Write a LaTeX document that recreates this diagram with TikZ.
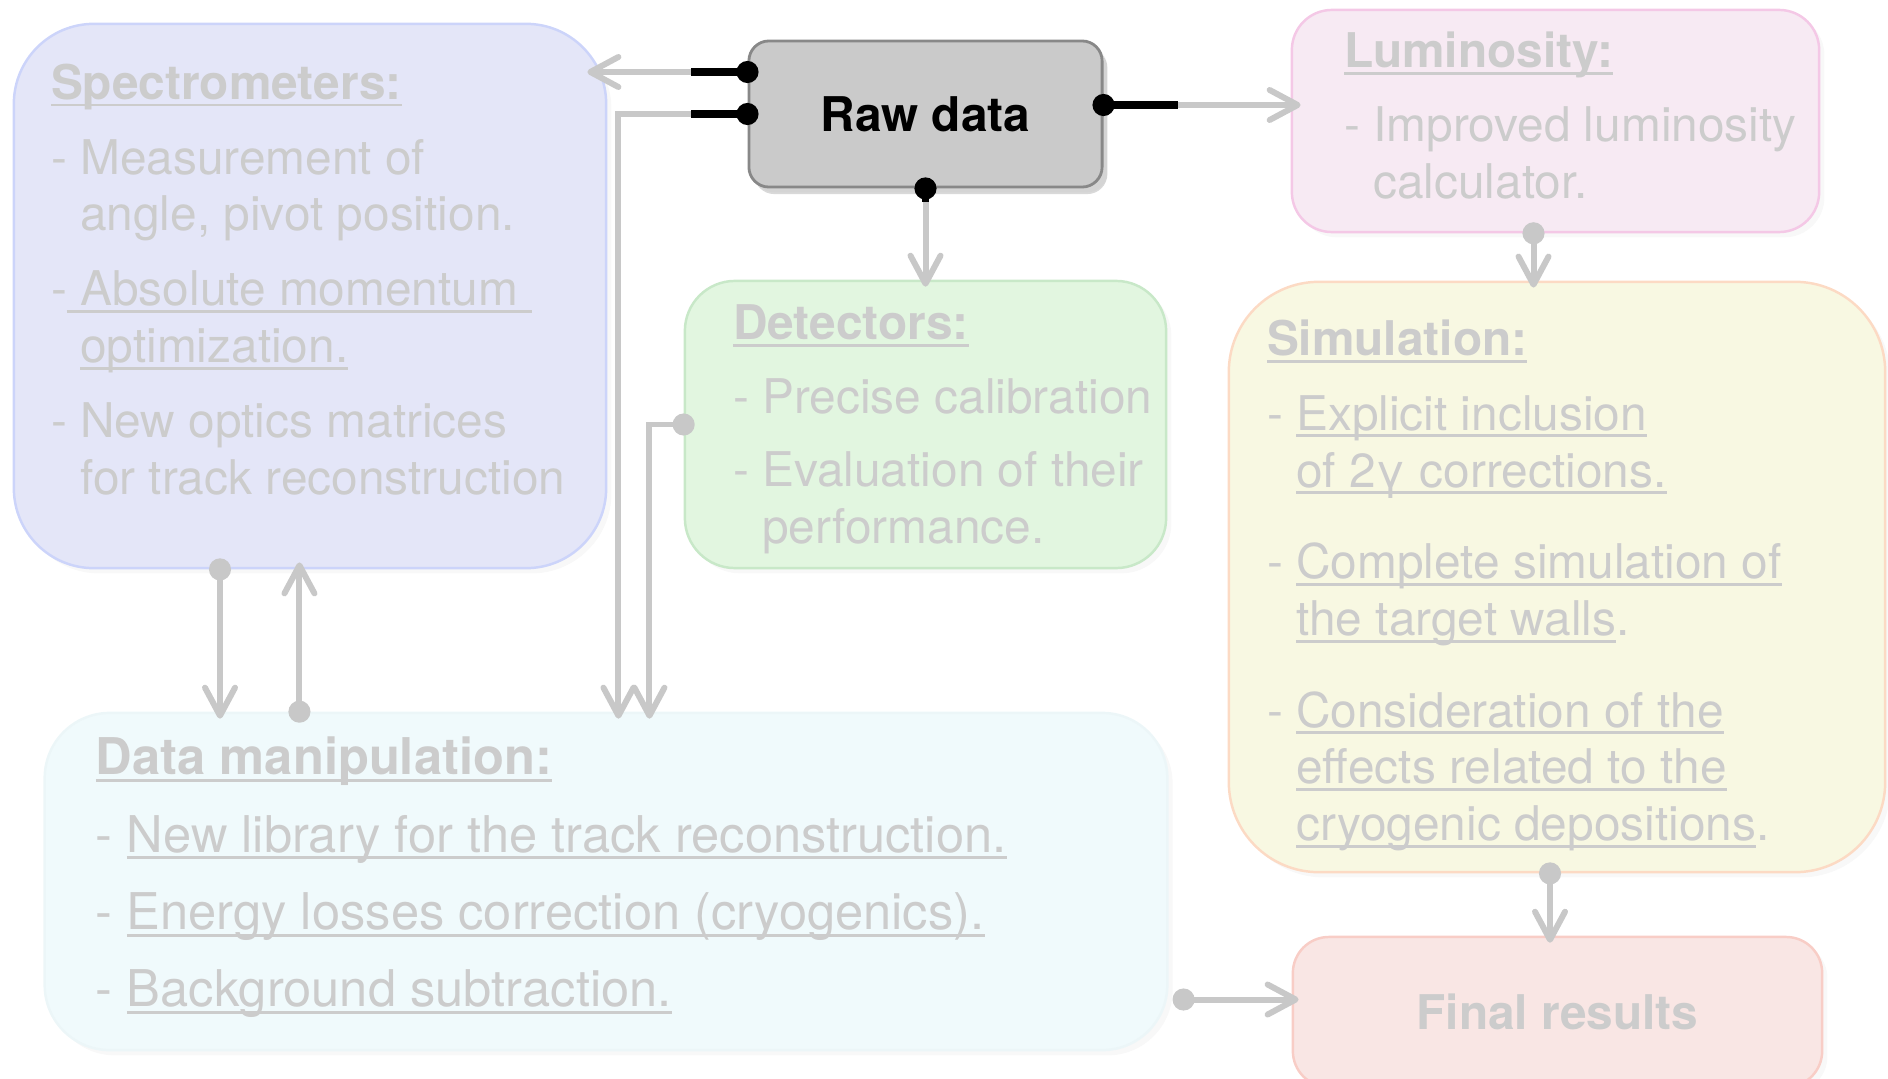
\documentclass[tikz,border=0pt]{standalone}
\usepackage{fontspec}
\setmainfont{TeX Gyre Heros}
\usetikzlibrary{arrows.meta,shadows}

\definecolor{txtgrey}{RGB}{204,204,204}
\definecolor{linegrey}{RGB}{200,200,200}
\definecolor{spectroFill}{RGB}{228,230,248}
\definecolor{spectroLine}{RGB}{204,212,250}
\definecolor{rawFill}{RGB}{202,202,202}
\definecolor{rawLine}{RGB}{136,136,136}
\definecolor{lumFill}{RGB}{247,234,243}
\definecolor{lumLine}{RGB}{244,200,230}
\definecolor{detFill}{RGB}{226,246,224}
\definecolor{detLine}{RGB}{200,232,200}
\definecolor{simFill}{RGB}{248,248,226}
\definecolor{simLine}{RGB}{252,218,196}
\definecolor{dmFill}{RGB}{240,250,252}
\definecolor{dmLine}{RGB}{236,246,248}
\definecolor{finalFill}{RGB}{249,230,228}
\definecolor{finalLine}{RGB}{248,205,198}

% underline that crosses the descenders
\newcommand{\undl}[1]{\leavevmode\setbox0\hbox{#1}\rlap{\rule[-2pt]{\wd0}{0.8pt}}\box0}
\newcommand{\ind}{\hspace*{0.61em}}
\newcommand{\boxfont}{\fontsize{13.6}{16.2}\selectfont}

\begin{document}
\begin{tikzpicture}[x=0.01cm,y=-0.01cm,thick]
  \tikzstyle{panel}=[draw, line width=0.7pt, inner sep=0pt,
    drop shadow={shadow xshift=1.5pt, shadow yshift=-1.5pt, opacity=0.06}]
  \tikzstyle{txt}=[anchor=north west, inner sep=0pt, align=left, text=txtgrey, font=\boxfont]
  \tikzstyle{flow}=[linegrey, line width=1.7pt, shorten >=-0.7mm,
    -{Straight Barb[length=2.8mm,width=3mm,round]}]
  \tikzstyle{dotflow}=[flow, {Circle[length=2.2mm]}-{Straight Barb[length=2.8mm,width=3mm,round]},
    shorten <=-1.1mm]
  \tikzstyle{rawtap}=[black, line width=2pt, {Circle[length=2.2mm]}-, shorten <=-1.1mm]

  \useasboundingbox (0,0) rectangle (1888,1079);

  % Boxes
  \node[panel, fill=spectroFill, draw=spectroLine, rounded corners=0.8cm,
    minimum width=5.92cm, minimum height=5.44cm] (spectro) at (310,296) {};
  \node[panel, fill=rawFill, draw=rawLine, line width=0.8pt, rounded corners=0.2cm,
    minimum width=3.53cm, minimum height=1.46cm,
    drop shadow={shadow xshift=1.5pt, shadow yshift=-2pt, opacity=0.3},
    font=\boxfont\bfseries] (raw) at (925.5,114) {Raw data};
  \node[panel, fill=lumFill, draw=lumLine, rounded corners=0.4cm,
    minimum width=5.27cm, minimum height=2.22cm] (lum) at (1555.5,121) {};
  \node[panel, fill=detFill, draw=detLine, rounded corners=0.5cm,
    minimum width=4.81cm, minimum height=2.87cm] (det) at (925.5,424.5) {};
  \node[panel, fill=simFill, draw=simLine, rounded corners=0.9cm,
    minimum width=6.56cm, minimum height=5.9cm] (sim) at (1557,577) {};
  \node[panel, fill=dmFill, draw=dmLine, rounded corners=0.65cm,
    minimum width=11.22cm, minimum height=3.37cm] (dataman) at (606,881.5) {};
  \node[panel, fill=finalFill, draw=finalLine, rounded corners=0.36cm,
    minimum width=5.29cm, minimum height=1.5cm, text=txtgrey,
    font=\boxfont\bfseries] (final) at (1557.5,1012) {Final results};

  % Box texts
  \node[txt] (spectroTxt) at ([shift={(37,40)}]spectro.north west)
    {\textbf{\undl{Spectrometers:}}\\[5pt]
     - Measurement of\\
     \ind angle, pivot position.\\[5pt]
     -\undl{ Absolute momentum }\\
     \ind\undl{optimization.}\\[5pt]
     - New optics matrices\\
     \ind for track reconstruction};
  \node[txt] (lumTxt) at ([shift={(52,22)}]lum.north west)
    {\textbf{\undl{Luminosity:}}\\[4.7pt]
     - Improved luminosity\\
     \ind calculator.};
  \node[txt] (detTxt) at ([shift={(48,24)}]det.north west)
    {\textbf{\undl{Detectors:}}\\[4.7pt]
     - Precise calibration\\[4.5pt]
     - Evaluation of their\\
     \ind performance.};
  \node[txt] (simTxt) at ([shift={(38,38)}]sim.north west)
    {\textbf{\undl{Simulation:}}\\[5pt]
     - \undl{Explicit inclusion}\\
     \ind\undl{of 2γ corrections.}\\[9.8pt]
     - \undl{Complete simulation of}\\
     \ind\undl{the target walls}.\\[9.8pt]
     - \undl{Consideration of the}\\
     \ind\undl{effects related to the}\\
     \ind\undl{cryogenic depositions}.};
  \node[txt, font=\fontsize{14.4}{22}\selectfont] (dmTxt) at ([shift={(51,24)}]dataman.north west)
    {\textbf{\undl{Data manipulation:}}\\
     - \undl{New library for the track reconstruction.}\\
     - \undl{Energy losses correction (cryogenics).}\\
     - \undl{Background subtraction.}};

  % Connector end points
  \coordinate (rawA) at ([shift={(0,-42)}]raw.west);
  \coordinate (rawR) at ([shift={(0,-9)}]raw.east);
  \coordinate (rawAk) at ([shift={(-57,0)}]rawA);
  \coordinate (rawBk) at ([shift={(-57,0)}]raw.west);
  \coordinate (rawRk) at ([shift={(74,0)}]rawR);
  \coordinate (rawSk) at ([shift={(0,14)}]raw.south);
  \coordinate (dmInA) at ([shift={(575,0)}]dataman.north west);
  \coordinate (dmInB) at ([shift={(606,0)}]dataman.north west);
  \coordinate (spOut) at ([shift={(-90,0)}]spectro.south);
  \coordinate (dmUp) at ([shift={(256,0)}]dataman.north west);
  \coordinate (lumOut) at ([shift={(-22,0)}]lum.south);
  \coordinate (simOut) at ([shift={(-7,0)}]sim.south);
  \coordinate (dmOut) at ([shift={(15,118)}]dataman.east);

  % Connectors
  \draw[flow, shorten >=-2mm] (rawA) -- (rawA -| spectro.east);
  \draw[flow] (raw.west) -| (dmInA);
  \draw[flow] (raw.south) -- (det.north);
  \draw[flow, shorten >=-1mm] (rawR) -- (rawR -| lum.west);
  \draw[dotflow] (det.west) -| (dmInB);
  \draw[dotflow] (spOut) -- (spOut |- dataman.north);
  \draw[dotflow] (dmUp) -- (dmUp |- spectro.south);
  \draw[dotflow] (lumOut) -- (lumOut |- sim.north);
  \draw[dotflow] (simOut) -- (simOut |- final.north);
  \draw[dotflow] (dmOut) -- (dmOut -| final.west);

  % Black taps on the raw data box
  \draw[rawtap] (rawA) -- (rawAk);
  \draw[rawtap] (raw.west) -- (rawBk);
  \draw[rawtap] (rawR) -- (rawRk);
  \draw[rawtap] (raw.south) -- (rawSk);
\end{tikzpicture}
\end{document}
